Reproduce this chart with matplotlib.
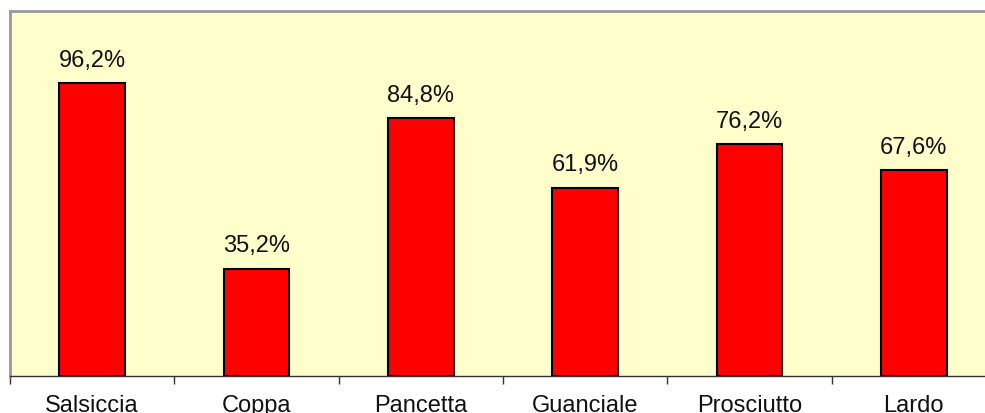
import matplotlib
matplotlib.use("Agg")
import matplotlib.pyplot as plt

categories = ["Salsiccia", "Coppa", "Pancetta", "Guanciale", "Prosciutto", "Lardo"]
values = [96.2, 35.2, 84.8, 61.9, 76.2, 67.6]

plt.rcParams["font.family"] = ["Liberation Sans", "DejaVu Sans"]

fig = plt.figure(figsize=(9.85, 4.14), dpi=100)
fig.patch.set_facecolor("white")
ax = fig.add_axes([10 / 985, 1 - 377 / 414, 986 / 985, 365 / 414])
ax.set_facecolor("#FFFFCC")

x = list(range(len(categories)))
bars = ax.bar(x, values, width=0.4, color="#FF0000", edgecolor="black", linewidth=1.5)

for xi, v in zip(x, values):
    ax.annotate(f"{v:.1f}%".replace(".", ","), (xi, v), xytext=(0, 9),
                textcoords="offset points", ha="center", va="bottom",
                fontsize=17, color="#111111")

ax.set_xlim(-0.5, len(categories) - 0.5)
ax.set_ylim(0, 120)

ax.set_xticks(x)
ax.set_xticklabels(categories, fontsize=17, color="#111111")
ax.tick_params(axis="x", which="major", length=0, pad=13)
ax.set_xticks([i - 0.5 for i in range(len(categories) + 1)], minor=True)
ax.tick_params(axis="x", which="minor", length=6, width=1, color="#333333")
ax.set_yticks([])

for side in ("top", "left", "right"):
    ax.spines[side].set_color("#999999")
    ax.spines[side].set_linewidth(2)
ax.spines["bottom"].set_color("#333333")
ax.spines["bottom"].set_linewidth(1)

fig.savefig("out.png", dpi=100, facecolor="white")
